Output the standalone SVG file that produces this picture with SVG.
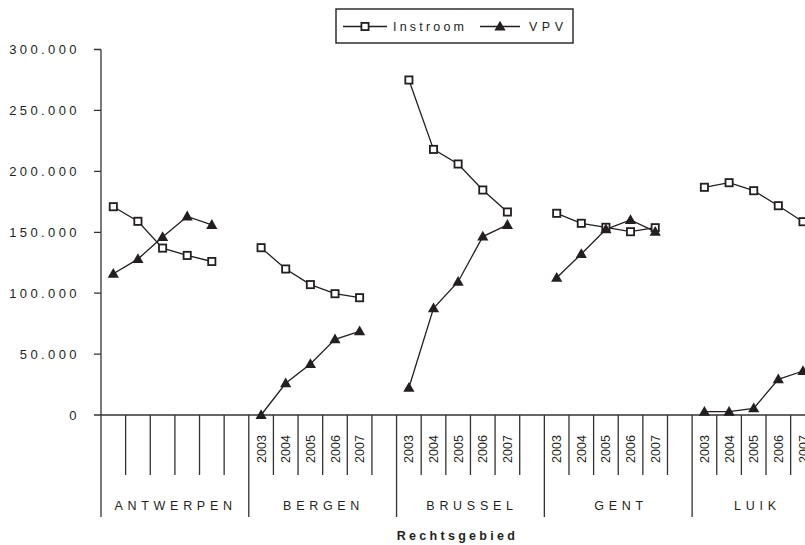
<svg xmlns="http://www.w3.org/2000/svg" xmlns:xlink="http://www.w3.org/1999/xlink" width="805" height="545" viewBox="0 0 805 545">
<style>
.ax{stroke:#333;stroke-width:1.3;fill:none}
.ln{stroke:#231f20;stroke-width:1.3;fill:none}
.sq{fill:#fff;stroke:#231f20;stroke-width:1.8}
.tri{fill:#231f20;stroke:none}
.t{font-family:"Liberation Sans",Arial,sans-serif;fill:#231f20}
.yl{font-size:13px;letter-spacing:3.4px;text-anchor:end}
.yr{font-size:12.5px;text-anchor:middle}
.rg{font-size:12.5px;letter-spacing:4.7px;text-anchor:middle}
.lg{font-size:12.5px}
.ttl{font-size:12.5px;font-weight:bold;letter-spacing:3.3px;text-anchor:middle}
</style>
<defs>
<rect id="sq" class="sq" x="-3.6" y="-3.6" width="7.2" height="7.2"/>
<path id="tri" class="tri" d="M0,-5.8 L5.6,4 L-5.6,4Z"/>
</defs>
<rect width="805" height="545" fill="#fff"/>

<g id="legend">
<rect x="336" y="9" width="237" height="34" fill="#fff" stroke="#231f20" stroke-width="1.4"/>
<line class="ln" x1="343" y1="26.5" x2="387" y2="26.5"/>
<use xlink:href="#sq" x="365" y="26.5"/>
<text class="t lg" x="393" y="31" letter-spacing="3.2">Instroom</text>
<line class="ln" x1="480" y1="26.5" x2="520" y2="26.5"/>
<use xlink:href="#tri" x="500" y="26.5"/>
<text class="t lg" x="529" y="31" letter-spacing="4.5">VPV</text>
</g>

<g id="y-axis">
<line class="ax" x1="101" y1="49.5" x2="101" y2="517"/>
<path class="ax" d="M94,49.5H101M94,110.4H101M94,171.3H101M94,232.3H101M94,293.2H101M94,354.1H101"/>
<g class="t yl">
<text x="80" y="54">300.000</text>
<text x="80" y="115">250.000</text>
<text x="80" y="176">200.000</text>
<text x="80" y="237">150.000</text>
<text x="80" y="298">100.000</text>
<text x="80" y="359">50.000</text>
<text x="80" y="420">0</text>
</g>
</g>

<g id="x-axis">
<line class="ax" x1="94" y1="415" x2="805" y2="415"/>
<path class="ax" d="M125.63,415V475M150.26,415V475M174.89,415V475M199.52,415V475M224.15,415V475M273.41,415V475M298.04,415V475M322.67,415V475M347.3,415V475M371.93,415V475M421.19,415V475M445.82,415V475M470.45,415V475M495.08,415V475M519.71,415V475M568.97,415V475M593.6,415V475M618.23,415V475M642.86,415V475M667.49,415V475M716.75,415V475M741.38,415V475M766.01,415V475M790.64,415V475"/>
<path class="ax" d="M248.78,415V517M396.56,415V517M544.34,415V517M692.12,415V517"/>
<g class="t yr">
<text transform="translate(265.6,449) rotate(-90)">2003</text>
<text transform="translate(290.2,449) rotate(-90)">2004</text>
<text transform="translate(314.9,449) rotate(-90)">2005</text>
<text transform="translate(339.5,449) rotate(-90)">2006</text>
<text transform="translate(364.1,449) rotate(-90)">2007</text>
<text transform="translate(413.4,449) rotate(-90)">2003</text>
<text transform="translate(438.0,449) rotate(-90)">2004</text>
<text transform="translate(462.6,449) rotate(-90)">2005</text>
<text transform="translate(487.3,449) rotate(-90)">2006</text>
<text transform="translate(511.9,449) rotate(-90)">2007</text>
<text transform="translate(561.2,449) rotate(-90)">2003</text>
<text transform="translate(585.8,449) rotate(-90)">2004</text>
<text transform="translate(610.4,449) rotate(-90)">2005</text>
<text transform="translate(635.0,449) rotate(-90)">2006</text>
<text transform="translate(659.7,449) rotate(-90)">2007</text>
<text transform="translate(708.9,449) rotate(-90)">2003</text>
<text transform="translate(733.6,449) rotate(-90)">2004</text>
<text transform="translate(758.2,449) rotate(-90)">2005</text>
<text transform="translate(782.8,449) rotate(-90)">2006</text>
<text transform="translate(807.5,449) rotate(-90)">2007</text>
</g>
<g class="t rg">
<text x="175.6" y="509.5">ANTWERPEN</text>
<text x="323.6" y="509.5">BERGEN</text>
<text x="472" y="509.5">BRUSSEL</text>
<text x="621" y="509.5">GENT</text>
<text x="757.4" y="509.5">LUIK</text>
</g>
<text class="t ttl" x="457.5" y="540">Rechtsgebied</text>
</g>

<g id="series-instroom">
<polyline class="ln" points="113.3,206.7 137.9,221.3 162.6,248.1 187.2,255.4 211.8,261.5"/>
<polyline class="ln" points="261.1,247.7 285.7,269 310.4,284.6 335,293.7 359.6,297.7"/>
<polyline class="ln" points="408.9,80 433.5,149.4 458.1,164 482.8,190 507.4,212"/>
<polyline class="ln" points="556.7,213.3 581.3,223.3 605.9,227.3 630.5,231.7 655.2,227.7"/>
<polyline class="ln" points="704.4,187.3 729.1,182.7 753.7,190.7 778.3,205.7 803,221.7"/>
</g>
<g id="series-vpv">
<polyline class="ln" points="113.3,273.7 137.9,259.1 162.6,237.1 187.2,216.4 211.8,224.9"/>
<polyline class="ln" points="261.1,415 285.7,383.3 310.4,364 335,339.3 359.6,331.3"/>
<polyline class="ln" points="408.9,387.7 433.5,308.3 458.1,281.7 482.8,236.6 507.4,224.9"/>
<polyline class="ln" points="556.7,277.7 581.3,254 605.9,229.3 630.5,220 655.2,231.7"/>
<polyline class="ln" points="704.4,411.7 729.1,411.7 753.7,408.3 778.3,379.3 803,371"/>
</g>

<g id="markers-instroom">
<use xlink:href="#sq" x="113.3" y="206.7"/><use xlink:href="#sq" x="137.9" y="221.3"/><use xlink:href="#sq" x="162.6" y="248.1"/><use xlink:href="#sq" x="187.2" y="255.4"/><use xlink:href="#sq" x="211.8" y="261.5"/>
<use xlink:href="#sq" x="261.1" y="247.7"/><use xlink:href="#sq" x="285.7" y="269"/><use xlink:href="#sq" x="310.4" y="284.6"/><use xlink:href="#sq" x="335" y="293.7"/><use xlink:href="#sq" x="359.6" y="297.7"/>
<use xlink:href="#sq" x="408.9" y="80"/><use xlink:href="#sq" x="433.5" y="149.4"/><use xlink:href="#sq" x="458.1" y="164"/><use xlink:href="#sq" x="482.8" y="190"/><use xlink:href="#sq" x="507.4" y="212"/>
<use xlink:href="#sq" x="556.7" y="213.3"/><use xlink:href="#sq" x="581.3" y="223.3"/><use xlink:href="#sq" x="605.9" y="227.3"/><use xlink:href="#sq" x="630.5" y="231.7"/><use xlink:href="#sq" x="655.2" y="227.7"/>
<use xlink:href="#sq" x="704.4" y="187.3"/><use xlink:href="#sq" x="729.1" y="182.7"/><use xlink:href="#sq" x="753.7" y="190.7"/><use xlink:href="#sq" x="778.3" y="205.7"/><use xlink:href="#sq" x="803" y="221.7"/>
</g>
<g id="markers-vpv">
<use xlink:href="#tri" x="113.3" y="273.7"/><use xlink:href="#tri" x="137.9" y="259.1"/><use xlink:href="#tri" x="162.6" y="237.1"/><use xlink:href="#tri" x="187.2" y="216.4"/><use xlink:href="#tri" x="211.8" y="224.9"/>
<use xlink:href="#tri" x="261.1" y="415"/><use xlink:href="#tri" x="285.7" y="383.3"/><use xlink:href="#tri" x="310.4" y="364"/><use xlink:href="#tri" x="335" y="339.3"/><use xlink:href="#tri" x="359.6" y="331.3"/>
<use xlink:href="#tri" x="408.9" y="387.7"/><use xlink:href="#tri" x="433.5" y="308.3"/><use xlink:href="#tri" x="458.1" y="281.7"/><use xlink:href="#tri" x="482.8" y="236.6"/><use xlink:href="#tri" x="507.4" y="224.9"/>
<use xlink:href="#tri" x="556.7" y="277.7"/><use xlink:href="#tri" x="581.3" y="254"/><use xlink:href="#tri" x="605.9" y="229.3"/><use xlink:href="#tri" x="630.5" y="220"/><use xlink:href="#tri" x="655.2" y="231.7"/>
<use xlink:href="#tri" x="704.4" y="411.7"/><use xlink:href="#tri" x="729.1" y="411.7"/><use xlink:href="#tri" x="753.7" y="408.3"/><use xlink:href="#tri" x="778.3" y="379.3"/><use xlink:href="#tri" x="803" y="371"/>
</g>
</svg>
